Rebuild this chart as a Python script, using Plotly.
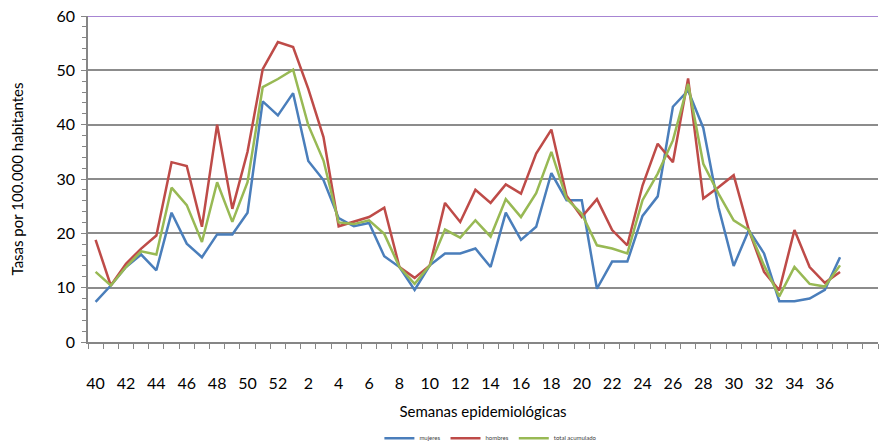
import plotly.graph_objects as go

weeks = [40, 41, 42, 43, 44, 45, 46, 47, 48, 49, 50, 51, 52,
         1, 2, 3, 4, 5, 6, 7, 8, 9, 10, 11, 12, 13, 14, 15, 16, 17, 18, 19, 20,
         21, 22, 23, 24, 25, 26, 27, 28, 29, 30, 31, 32, 33, 34, 35, 36, 37]

mujeres = [7.4, 10.4, 13.8, 16.1, 13.2, 23.8, 18.1, 15.6, 19.8, 19.8, 23.8, 44.3, 41.7,
           45.8, 33.3, 29.8, 22.8, 21.3, 21.9, 15.8, 13.8, 9.6, 14.1, 16.3, 16.3, 17.2,
           13.8, 23.8, 18.8, 21.2, 31.1, 26.1, 26.1, 9.8, 14.8, 14.8, 23.2, 26.8, 43.3,
           46.3, 39.4, 24.8, 14.0, 20.6, 16.3, 7.5, 7.5, 8.0, 9.6, 15.6]

hombres = [18.8, 10.4, 14.4, 17.2, 19.6, 33.1, 32.4, 21.2, 40.0, 24.5, 35.0, 50.2, 55.2,
           54.3, 46.6, 37.7, 21.3, 22.1, 23.0, 24.7, 13.8, 11.8, 14.1, 25.6, 22.1, 28.0,
           25.6, 29.0, 27.3, 34.7, 39.1, 26.9, 23.0, 26.3, 20.6, 17.8, 28.8, 36.5, 33.1,
           48.5, 26.4, 28.5, 30.7, 20.6, 12.9, 9.5, 20.6, 13.8, 10.9, 12.9]

total = [12.9, 10.4, 13.8, 16.7, 16.1, 28.4, 25.2, 18.4, 29.4, 22.1, 29.4, 46.9, 48.4,
         50.1, 39.9, 33.4, 22.0, 21.7, 22.4, 19.9, 13.8, 10.7, 14.1, 20.7, 19.2, 22.4,
         19.4, 26.3, 23.0, 27.4, 35.0, 26.4, 23.6, 17.8, 17.2, 16.3, 26.1, 31.0, 37.1,
         47.5, 32.8, 27.3, 22.4, 20.6, 14.1, 8.4, 13.8, 10.7, 10.2, 14.1]

series_names = ["mujeres", "hombres", "total acumulado"]
colors = ["#4a7ebb", "#be4b48", "#98b954"]

xidx = list(range(len(weeks)))
n_categories = 52
tick_idx = xidx[::2]
tick_text = [str(weeks[i]) for i in tick_idx]

fig = go.Figure()
for name, vals, col in zip(series_names, [mujeres, hombres, total], colors):
    fig.add_trace(go.Scatter(x=xidx, y=vals, mode="lines", name=name,
                             line=dict(color=col, width=2.5)))

font_family = "Lato, 'Open Sans', sans-serif"

fig.update_layout(
    width=887, height=448,
    margin=dict(l=88, r=9, t=16, b=106, autoexpand=False),
    paper_bgcolor="white", plot_bgcolor="white",
    font=dict(family=font_family, color="black"),
    showlegend=True,
    legend=dict(orientation="h", x=0.51, xanchor="center",
                yref="container", y=0.022, yanchor="middle",
                font=dict(size=6, color="#404040"), itemwidth=30,
                tracegroupgap=0),
    xaxis=dict(
        range=[-0.5, n_categories - 0.5],
        tickmode="array", tickvals=tick_idx, ticktext=tick_text,
        ticks="", tickfont=dict(size=16),
        ticklabelstandoff=26,
        showgrid=False, zeroline=False, automargin=False,
        showline=True, linecolor="#868686", linewidth=1.5,
        minor=dict(tick0=-0.5, dtick=1, ticks="outside", ticklen=5,
                   tickcolor="#868686", tickwidth=1, showgrid=False),
        title=dict(text="Semanas epidemiológicas", font=dict(size=15), standoff=16),
    ),
    yaxis=dict(
        range=[0, 60], dtick=10, tick0=0,
        ticks="outside", ticklen=5, tickcolor="#868686", tickwidth=1,
        tickfont=dict(size=16), ticklabelstandoff=3,
        showgrid=True, gridcolor="#8c8c8c", gridwidth=1.5,
        zeroline=False, automargin=False,
        showline=True, linecolor="#868686", linewidth=1.5,
        minor=dict(dtick=2, ticks="outside", ticklen=4, tickcolor="#868686",
                   tickwidth=1, showgrid=False),
        title=dict(text="Tasas por 100.000 habitantes", font=dict(size=15), standoff=29),
    ),
)

fig.add_shape(type="line", xref="paper", yref="y", x0=0, x1=1, y0=60, y1=60,
              line=dict(color="#8a5cc4", width=1.5))

fig.write_html("out.html", config={"displayModeBar": False},
               post_script="document.body.style.margin='0';document.body.style.padding='0';")
